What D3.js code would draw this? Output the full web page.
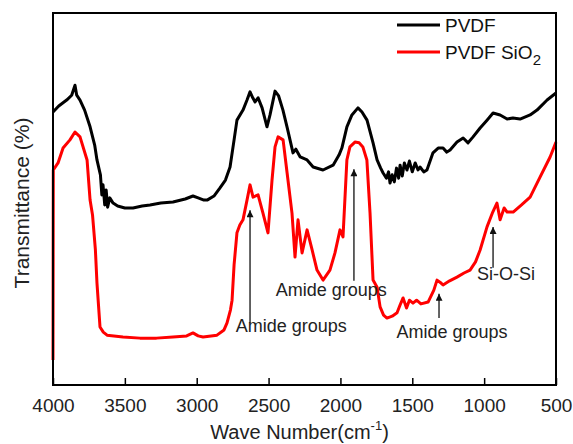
<!DOCTYPE html>
<html lang="en">
<head>
    <meta charset="UTF-8">
    <title>FTIR PVDF / PVDF SiO2</title>
    <script src="https://d3js.org/d3.v7.min.js"></script>
    <style>
        body { margin: 0; background: #fff; }
        text { font-family: "Liberation Sans", Arial, sans-serif; }
    </style>
</head>
<body>
    <div id="my_dataviz"></div>

    <script>
        // PVDF spectrum (wave number, transmittance in arbitrary units)
        var pvdfWave = [4000, 3960, 3905, 3870, 3847, 3835, 3812, 3780, 3742, 3710, 3694, 3670, 3660, 3652, 3640, 3630, 3620, 3605, 3582, 3550,
            3500, 3443, 3380, 3325, 3250, 3165, 3080, 3026, 2990, 2950, 2928, 2880, 2838, 2800, 2768, 2740, 2720, 2678, 2650, 2629,
            2610, 2594, 2573, 2545, 2511, 2490, 2455, 2430, 2400, 2370, 2330, 2310, 2280, 2232, 2190, 2121, 2051, 2010, 1990, 1955,
            1920, 1878, 1850, 1815, 1773, 1745, 1720, 1703, 1680, 1665, 1655, 1640, 1625, 1610, 1595, 1585, 1570, 1555, 1537, 1520,
            1500, 1480, 1460, 1446, 1420, 1398, 1356, 1320, 1286, 1260, 1237, 1189, 1146, 1112, 1077, 1028, 980, 938, 889, 840,
            800, 750, 680, 632, 562, 500];
        var pvdfT = [73.4, 75.0, 76.6, 77.9, 80.6, 77.9, 76.6, 73.9, 69.4, 64.5, 60.5, 56.5, 51.1, 53.8, 48.4, 52.4, 47.8, 50.3, 48.9, 48.1,
            47.6, 47.6, 48.1, 48.4, 48.9, 49.2, 50.0, 50.8, 50.3, 49.7, 49.7, 50.8, 53.0, 55.1, 58.6, 65.9, 71.2, 73.9, 76.6, 78.8,
            77.2, 76.1, 77.2, 74.5, 69.4, 72.6, 79.0, 77.7, 73.9, 69.1, 62.4, 63.4, 61.3, 60.5, 58.6, 57.8, 59.1, 61.8, 63.7, 69.4,
            72.6, 74.5, 73.4, 71.2, 65.1, 60.5, 58.3, 57.0, 55.6, 57.3, 54.3, 56.5, 54.6, 58.3, 55.6, 59.1, 56.2, 59.7, 57.8, 60.2,
            57.3, 59.7, 57.8, 58.6, 57.3, 57.8, 62.4, 63.7, 63.7, 62.6, 63.2, 65.3, 66.4, 65.1, 66.7, 69.1, 71.2, 73.1, 72.6, 71.5,
            71.8, 71.5, 72.6, 73.9, 76.6, 78.5];

        // PVDF SiO2 spectrum
        var sio2Wave = [4000, 3998, 3965, 3930, 3882, 3847, 3812, 3763, 3742, 3725, 3705, 3694, 3673, 3650, 3624, 3513, 3395, 3280, 3165, 3070,
            3026, 2990, 2956, 2900, 2859, 2810, 2789, 2765, 2754, 2740, 2720, 2700, 2678, 2650, 2629, 2608, 2573, 2539, 2504, 2476,
            2455, 2434, 2399, 2371, 2337, 2316, 2295, 2267, 2232, 2197, 2163, 2121, 2073, 2038, 2003, 1982, 1955, 1934, 1899, 1870,
            1844, 1816, 1794, 1773, 1745, 1724, 1700, 1676, 1640, 1606, 1585, 1564, 1540, 1520, 1495, 1470, 1440, 1390, 1350, 1328,
            1300, 1286, 1240, 1189, 1140, 1098, 1060, 1028, 980, 940, 911, 889, 861, 840, 798, 740, 680, 611, 541, 500];
        var sio2T = [6.7, 57.8, 59.7, 63.7, 65.9, 68.0, 66.7, 60.5, 49.7, 45.7, 36.3, 27.4, 15.6, 14.2, 13.4, 12.9, 12.6, 12.6, 12.9, 13.2,
            14.0, 13.2, 12.9, 13.2, 13.4, 14.8, 16.7, 20.2, 22.8, 32.3, 40.9, 43.0, 44.4, 49.7, 53.8, 50.5, 51.1, 46.2, 40.9, 55.1,
            64.0, 66.7, 65.9, 57.0, 46.2, 34.4, 44.4, 35.5, 41.7, 36.3, 30.9, 28.2, 30.9, 35.5, 41.7, 39.8, 60.5, 64.0, 65.3, 65.1,
            64.0, 60.5, 46.2, 28.2, 26.3, 21.0, 18.8, 18.0, 18.5, 19.4, 21.5, 23.4, 20.7, 22.8, 22.0, 22.8, 21.8, 22.3, 25.5, 28.2,
            27.4, 26.9, 28.0, 29.0, 30.1, 30.9, 33.1, 36.3, 42.5, 46.5, 48.9, 44.4, 47.6, 46.5, 46.5, 48.4, 50.5, 55.9, 61.3, 65.3];

        var xTicks = [4000, 3500, 3000, 2500, 2000, 1500, 1000, 500];

        // annotations: label, wave number of arrow, arrow tip / tail (transmittance)
        var noteLabels = ["Amide groups", "Amide groups", "Amide groups", "Si-O-Si"];
        var noteWave = [2629, 1906, 1314, 938];
        var noteTip = [47.0, 58.0, 24.5, 42.5];
        var noteTail = [16.7, 28.0, 18.0, 31.5];

        var margin = {top: 13, right: 17, bottom: 59, left: 53};
        var width = 573 - margin.left - margin.right;
        var height = 444 - margin.top - margin.bottom;

        var svg = d3.select("#my_dataviz")
            .append("svg")
            .attr("width", 573)
            .attr("height", 444)
            .append("g")
            .attr("transform", "translate(" + margin.left + "," + margin.top + ")");

        var x = d3.scaleLinear().domain([4000, 500]).range([0, width]);
        var y = d3.scaleLinear().domain([0, 100]).range([height, 0]);

        // arrow head
        svg.append("defs").append("marker")
            .attr("id", "arrow")
            .attr("viewBox", "0 0 10 10")
            .attr("refX", 10).attr("refY", 5)
            .attr("markerUnits", "userSpaceOnUse")
            .attr("markerWidth", 9).attr("markerHeight", 7)
            .attr("orient", "auto")
            .append("path")
            .attr("d", "M0,0 L10,5 L0,10 Z")
            .attr("fill", "#111");

        var line = d3.line()
            .x(function(d) { return x(d[0]); })
            .y(function(d) { return y(d[1]); });

        svg.append("path")
            .datum(d3.zip(sio2Wave, sio2T))
            .attr("fill", "none")
            .attr("stroke", "#ff0000")
            .attr("stroke-width", 3)
            .attr("stroke-linejoin", "round")
            .attr("d", line);

        svg.append("path")
            .datum(d3.zip(pvdfWave, pvdfT))
            .attr("fill", "none")
            .attr("stroke", "#000")
            .attr("stroke-width", 3)
            .attr("stroke-linejoin", "round")
            .attr("d", line);

        // x axis with inward ticks
        var xAxis = svg.append("g")
            .attr("transform", "translate(0," + height + ")")
            .call(d3.axisBottom(x).tickValues(xTicks).tickFormat(d3.format("d"))
                .tickSizeInner(-7).tickSizeOuter(0).tickPadding(14));
        xAxis.select(".domain").remove();
        xAxis.selectAll("line").attr("stroke", "#000").attr("stroke-width", 1.5);
        xAxis.selectAll("text")
            .attr("font-size", "19px")
            .attr("fill", "#222")
            .style("font-family", "'Liberation Sans', Arial, sans-serif");

        // frame
        svg.append("rect")
            .attr("x", 0).attr("y", 0)
            .attr("width", width).attr("height", height)
            .attr("fill", "none")
            .attr("stroke", "#000")
            .attr("stroke-width", 2);

        // annotations
        noteLabels.forEach(function(lab, i) {
            svg.append("line")
                .attr("x1", x(noteWave[i])).attr("x2", x(noteWave[i]))
                .attr("y1", y(noteTail[i])).attr("y2", y(noteTip[i]))
                .attr("stroke", "#111")
                .attr("stroke-width", 1.3)
                .attr("marker-end", "url(#arrow)");
        });
        var noteTextX = [2729, 2450, 1610, 1050];
        var noteTextY = [14.2, 23.9, 12.6, 28.2];
        noteLabels.forEach(function(lab, i) {
            svg.append("text")
                .attr("x", x(noteTextX[i]))
                .attr("y", y(noteTextY[i]))
                .attr("font-size", "18px")
                .attr("fill", "#222")
                .text(lab);
        });

        // axis titles
        var xt = svg.append("text")
            .attr("x", width / 2 - 5)
            .attr("y", height + 54)
            .attr("text-anchor", "middle")
            .attr("font-size", "20px")
            .attr("fill", "#222");
        xt.append("tspan").text("Wave Number(cm");
        xt.append("tspan").attr("font-size", "13px").attr("dy", -9).text("-1");
        xt.append("tspan").attr("dy", 9).text(")");

        svg.append("text")
            .attr("transform", "translate(" + (-24) + "," + 190 + ") rotate(-90)")
            .attr("text-anchor", "middle")
            .attr("font-size", "21px")
            .attr("fill", "#222")
            .text("Transmittance (%)");

        // legend
        var legend = svg.append("g").attr("transform", "translate(" + (width - 159) + ",12)");
        var legNames = ["PVDF", "PVDF SiO"];
        var legColors = ["#000", "#ff0000"];
        legNames.forEach(function(n, i) {
            legend.append("line")
                .attr("x1", 0).attr("x2", 43)
                .attr("y1", i * 27).attr("y2", i * 27)
                .attr("stroke", legColors[i])
                .attr("stroke-width", 3);
            var t = legend.append("text")
                .attr("x", 48).attr("y", i * 27 + 7)
                .attr("font-size", "19px")
                .attr("fill", "#111")
                .text(n);
            if (i == 1) {
                t.append("tspan").attr("font-size", "15px").attr("dy", 6).text("2");
            }
        });
    </script>
</body>
</html>
